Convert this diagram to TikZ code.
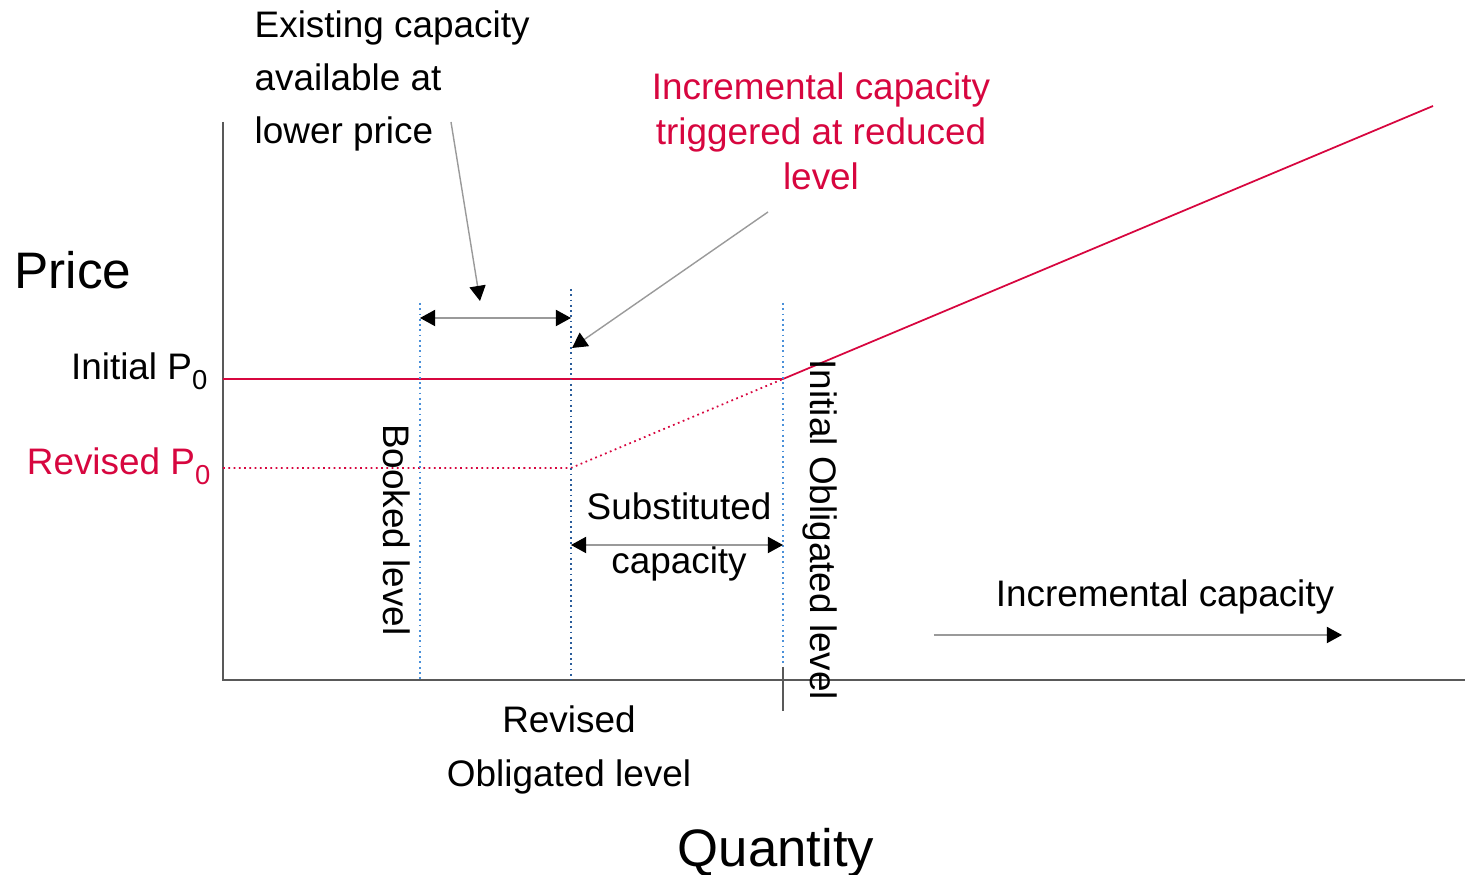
\documentclass[tikz,border=0pt]{standalone}
\usepackage{fontspec}
\setmainfont{Liberation Sans}
\usetikzlibrary{arrows.meta,positioning}
\definecolor{PRed}{HTML}{D7063F}
\definecolor{PBlue}{HTML}{4A90D9}
\definecolor{PNavy}{HTML}{2A5C9A}
\definecolor{PGrey}{HTML}{9A9A9A}
\newcommand{\lowsub}[1]{\raisebox{-2.7pt}{\fontsize{7.8}{9}\selectfont #1}}

\begin{document}
\begin{tikzpicture}[
  tip/.tip={Triangle[length=4.3pt,width=4.6pt,color=black]},
  lbl/.style={inner sep=0pt, align=center, font=\fontsize{10.5}{15.2}\selectfont},
  redlbl/.style={lbl, text=PRed, font=\fontsize{10.5}{12.8}\selectfont},
  big/.style={inner sep=0pt, font=\fontsize{14.6}{16}\selectfont},
  axis/.style={draw=black!65, line width=0.5pt},
  level/.style={draw=PBlue, densely dotted, line width=0.5pt},
  price/.style={draw=PRed, line width=0.5pt},
  pointer/.style={draw=PGrey, line width=0.4pt, -tip},
  twoway/.style={draw=PGrey, line width=0.4pt, tip-tip}
]
\useasboundingbox (-2.23,-1.95) rectangle (12.42,6.80);

% axes
\coordinate (O) at (0,0);
\coordinate (ytop) at (0,5.58);
\coordinate (xend) at (12.42,0);
\draw[axis] (ytop) -- (O) -- (xend);

% price curve
\coordinate (p0) at (0,3.01);
\coordinate (p0r) at (0,2.12);
\coordinate (kink) at (3.48,2.12);
\coordinate (cross) at (5.60,3.01);
\coordinate (ctop) at (12.10,5.74);
\draw[price] (p0) -- (cross) -- (ctop);
\draw[price, densely dotted] (p0r) -- (kink) -- (cross);

% capacity levels
\coordinate (bk) at (1.97,0);
\coordinate (bktop) at (1.97,3.77);
\coordinate (ro) at (3.48,0);
\coordinate (rotop) at (3.48,3.91);
\coordinate (io) at (5.60,0);
\coordinate (iotop) at (5.60,3.77);
\draw[level] (bktop) -- (bk);
\draw[level, draw=PNavy] (rotop) -- (ro);
\draw[level] (iotop) -- (io);
\draw[axis] (5.60,0.13) -- (5.60,-0.31);

% labels
\node[big] (price) at (-1.50,4.10) {Price};
\node[big, font=\fontsize{15}{16}\selectfont] (qty) at (5.53,-1.73) {Quantity};
\node[lbl, anchor=base east] (init) at (-0.15,3.00) {Initial P\lowsub{0}};
\node[lbl, anchor=base east, text=PRed] (rev) at (-0.12,2.05) {Revised P\lowsub{0}};
\node[lbl, rotate=-90] (booked) at (1.74,1.50) {Booked level};
\node[lbl, rotate=-90] (initob) at (5.97,1.50) {Initial Obligated level};
\node[lbl] (subst) at (4.56,1.43) {Substituted\\capacity};
\node[lbl] (revob) at (3.46,-0.70) {Revised\\Obligated level};
\node[lbl, align=left, anchor=west] (exist) at (0.31,5.99) {Existing capacity\\available at\\lower price};
\node[redlbl] (trig) at (5.98,5.49) {Incremental capacity\\triggered at reduced\\level};
\node[lbl] (incr) at (9.42,0.83) {Incremental capacity};

% arrows
\coordinate (e1) at (2.28,5.58);
\coordinate (e2) at (2.57,3.79);
\coordinate (t1) at (5.45,4.68);
\coordinate (t2) at (3.49,3.32);
\coordinate (i1) at (7.11,0.45);
\coordinate (i2) at (11.19,0.45);
\draw[twoway] (1.97,3.62) -- (3.48,3.62);
\draw[twoway] (3.48,1.35) -- (5.60,1.35);
\draw[pointer] (e1) -- (e2);
\draw[pointer] (t1) -- (t2);
\draw[pointer] (i1) -- (i2);
\end{tikzpicture}
\end{document}
